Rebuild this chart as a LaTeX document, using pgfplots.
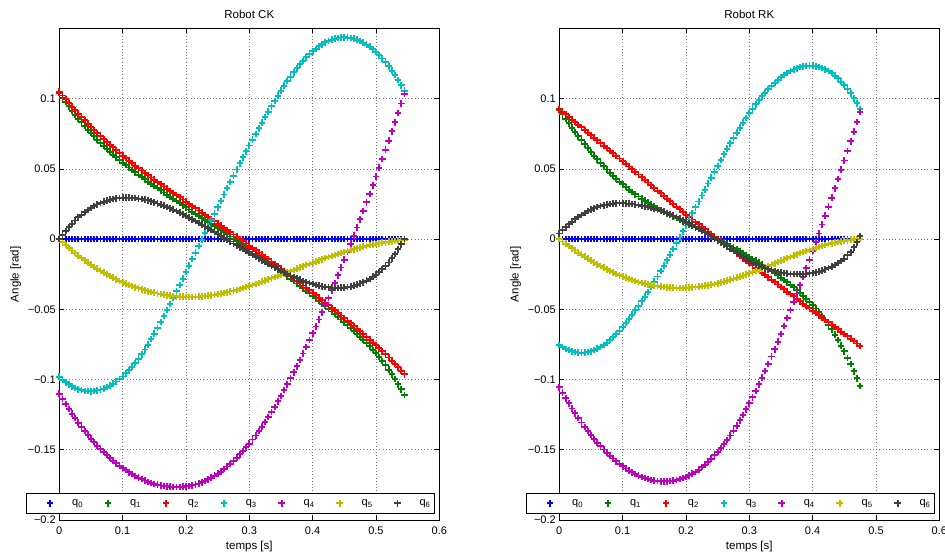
\documentclass[border=0pt]{standalone}
\usepackage{fontspec}
\setmainfont{Liberation Sans}
\usepackage{pgfplots}
\usepackage{pgfplotstable}
\pgfplotsset{compat=1.18}
\definecolor{mblue}{rgb}{0,0,1}
\definecolor{mgreen}{rgb}{0,0.5,0}
\definecolor{mred}{rgb}{1,0,0}
\definecolor{mcyan}{rgb}{0,0.75,0.75}
\definecolor{mmag}{rgb}{0.75,0,0.75}
\definecolor{myel}{rgb}{0.75,0.75,0}
\definecolor{mgray}{rgb}{0.25,0.25,0.25}

\pgfplotstableread{
t q0 q1 q2 q3 q4 q5 q6
0 0 0.1040 0.1050 -0.0980 -0.1100 0 0
0.005 0 0.1008 0.1023 -0.1000 -0.1137 -0.0021 0.0030
0.01 0 0.0976 0.0996 -0.1019 -0.1174 -0.0042 0.0059
0.015 0 0.0946 0.0970 -0.1034 -0.1209 -0.0062 0.0085
0.02 0 0.0915 0.0944 -0.1048 -0.1243 -0.0081 0.0110
0.025 0 0.0887 0.0919 -0.1059 -0.1275 -0.0099 0.0133
0.03 0 0.0858 0.0894 -0.1069 -0.1307 -0.0117 0.0155
0.035 0 0.0832 0.0870 -0.1075 -0.1337 -0.0134 0.0174
0.04 0 0.0805 0.0846 -0.1080 -0.1366 -0.0151 0.0192
0.045 0 0.0780 0.0823 -0.1082 -0.1393 -0.0167 0.0208
0.05 0 0.0755 0.0800 -0.1083 -0.1420 -0.0182 0.0223
0.055 0 0.0732 0.0778 -0.1080 -0.1445 -0.0197 0.0235
0.06 0 0.0708 0.0756 -0.1077 -0.1470 -0.0211 0.0247
0.065 0 0.0686 0.0735 -0.1071 -0.1493 -0.0225 0.0257
0.07 0 0.0664 0.0713 -0.1064 -0.1516 -0.0238 0.0267
0.075 0 0.0643 0.0693 -0.1054 -0.1537 -0.0251 0.0274
0.08 0 0.0622 0.0672 -0.1043 -0.1558 -0.0263 0.0281
0.085 0 0.0602 0.0653 -0.1029 -0.1577 -0.0275 0.0286
0.09 0 0.0582 0.0633 -0.1014 -0.1596 -0.0286 0.0291
0.095 0 0.0564 0.0614 -0.0996 -0.1613 -0.0297 0.0293
0.10 0 0.0545 0.0595 -0.0978 -0.1630 -0.0307 0.0295
0.105 0 0.0528 0.0577 -0.0956 -0.1645 -0.0317 0.0296
0.11 0 0.0510 0.0559 -0.0934 -0.1660 -0.0326 0.0295
0.115 0 0.0493 0.0541 -0.0908 -0.1673 -0.0335 0.0294
0.12 0 0.0475 0.0523 -0.0881 -0.1686 -0.0343 0.0292
0.125 0 0.0459 0.0506 -0.0851 -0.1698 -0.0351 0.0289
0.13 0 0.0442 0.0489 -0.0820 -0.1709 -0.0358 0.0286
0.135 0 0.0426 0.0472 -0.0786 -0.1719 -0.0365 0.0281
0.14 0 0.0409 0.0455 -0.0751 -0.1728 -0.0371 0.0276
0.145 0 0.0394 0.0439 -0.0712 -0.1736 -0.0377 0.0269
0.15 0 0.0378 0.0423 -0.0673 -0.1743 -0.0382 0.0262
0.155 0 0.0363 0.0407 -0.0632 -0.1749 -0.0387 0.0254
0.16 0 0.0347 0.0391 -0.0590 -0.1754 -0.0392 0.0246
0.165 0 0.0332 0.0375 -0.0548 -0.1758 -0.0396 0.0238
0.17 0 0.0316 0.0359 -0.0505 -0.1761 -0.0400 0.0229
0.175 0 0.0301 0.0344 -0.0461 -0.1763 -0.0403 0.0219
0.18 0 0.0286 0.0328 -0.0417 -0.1765 -0.0405 0.0209
0.185 0 0.0271 0.0313 -0.0372 -0.1766 -0.0407 0.0199
0.19 0 0.0256 0.0297 -0.0327 -0.1765 -0.0409 0.0188
0.195 0 0.0241 0.0282 -0.0281 -0.1763 -0.0410 0.0177
0.20 0 0.0226 0.0266 -0.0235 -0.1761 -0.0411 0.0165
0.205 0 0.0211 0.0251 -0.0189 -0.1757 -0.0411 0.0153
0.21 0 0.0196 0.0235 -0.0142 -0.1753 -0.0411 0.0141
0.215 0 0.0182 0.0220 -0.0096 -0.1747 -0.0410 0.0129
0.22 0 0.0167 0.0204 -0.0049 -0.1740 -0.0409 0.0116
0.225 0 0.0152 0.0189 -0.0003 -0.1731 -0.0407 0.0103
0.23 0 0.0137 0.0173 0.0043 -0.1722 -0.0405 0.0090
0.235 0 0.0122 0.0158 0.0089 -0.1711 -0.0403 0.0077
0.24 0 0.0107 0.0142 0.0135 -0.1699 -0.0400 0.0064
0.245 0 0.0093 0.0127 0.0181 -0.1685 -0.0396 0.0051
0.25 0 0.0078 0.0111 0.0227 -0.1671 -0.0392 0.0037
0.255 0 0.0064 0.0096 0.0273 -0.1655 -0.0388 0.0024
0.26 0 0.0049 0.0080 0.0318 -0.1638 -0.0383 0.0010
0.265 0 0.0034 0.0065 0.0363 -0.1619 -0.0378 -0.0004
0.27 0 0.0019 0.0049 0.0408 -0.1600 -0.0373 -0.0017
0.275 0 0.0004 0.0033 0.0452 -0.1579 -0.0367 -0.0031
0.28 0 -0.0011 0.0017 0.0496 -0.1557 -0.0361 -0.0044
0.285 0 -0.0027 0.0001 0.0539 -0.1533 -0.0355 -0.0058
0.29 0 -0.0042 -0.0015 0.0582 -0.1509 -0.0348 -0.0071
0.295 0 -0.0057 -0.0031 0.0625 -0.1483 -0.0341 -0.0085
0.30 0 -0.0072 -0.0047 0.0667 -0.1456 -0.0334 -0.0098
0.305 0 -0.0088 -0.0063 0.0709 -0.1427 -0.0327 -0.0112
0.31 0 -0.0103 -0.0079 0.0750 -0.1398 -0.0319 -0.0125
0.315 0 -0.0119 -0.0095 0.0790 -0.1367 -0.0311 -0.0138
0.32 0 -0.0134 -0.0111 0.0830 -0.1335 -0.0303 -0.0151
0.325 0 -0.0150 -0.0128 0.0869 -0.1301 -0.0295 -0.0164
0.33 0 -0.0166 -0.0144 0.0908 -0.1267 -0.0287 -0.0176
0.335 0 -0.0182 -0.0161 0.0946 -0.1231 -0.0279 -0.0189
0.34 0 -0.0198 -0.0177 0.0984 -0.1194 -0.0270 -0.0201
0.345 0 -0.0215 -0.0194 0.1021 -0.1155 -0.0262 -0.0213
0.35 0 -0.0231 -0.0210 0.1057 -0.1116 -0.0253 -0.0225
0.355 0 -0.0248 -0.0227 0.1092 -0.1075 -0.0245 -0.0237
0.36 0 -0.0264 -0.0244 0.1126 -0.1034 -0.0236 -0.0248
0.365 0 -0.0281 -0.0261 0.1157 -0.0992 -0.0228 -0.0259
0.37 0 -0.0298 -0.0278 0.1188 -0.0949 -0.0219 -0.0269
0.375 0 -0.0316 -0.0295 0.1216 -0.0905 -0.0211 -0.0279
0.38 0 -0.0333 -0.0312 0.1244 -0.0860 -0.0202 -0.0288
0.385 0 -0.0351 -0.0330 0.1269 -0.0814 -0.0194 -0.0297
0.39 0 -0.0368 -0.0347 0.1294 -0.0767 -0.0185 -0.0305
0.395 0 -0.0386 -0.0365 0.1316 -0.0719 -0.0177 -0.0313
0.40 0 -0.0404 -0.0382 0.1337 -0.0671 -0.0168 -0.0320
0.405 0 -0.0422 -0.0400 0.1355 -0.0622 -0.0160 -0.0326
0.41 0 -0.0440 -0.0417 0.1373 -0.0572 -0.0151 -0.0332
0.415 0 -0.0459 -0.0435 0.1387 -0.0521 -0.0143 -0.0337
0.42 0 -0.0477 -0.0453 0.1401 -0.0470 -0.0135 -0.0341
0.425 0 -0.0496 -0.0471 0.1411 -0.0418 -0.0128 -0.0344
0.43 0 -0.0515 -0.0489 0.1421 -0.0365 -0.0120 -0.0346
0.435 0 -0.0534 -0.0507 0.1427 -0.0311 -0.0113 -0.0347
0.44 0 -0.0552 -0.0525 0.1433 -0.0257 -0.0105 -0.0347
0.445 0 -0.0572 -0.0544 0.1436 -0.0202 -0.0098 -0.0346
0.45 0 -0.0592 -0.0562 0.1437 -0.0146 -0.0091 -0.0345
0.455 0 -0.0612 -0.0581 0.1435 -0.0090 -0.0085 -0.0342
0.46 0 -0.0632 -0.0599 0.1433 -0.0033 -0.0078 -0.0338
0.465 0 -0.0654 -0.0618 0.1427 0.0025 -0.0072 -0.0332
0.47 0 -0.0675 -0.0637 0.1420 0.0083 -0.0065 -0.0325
0.475 0 -0.0697 -0.0657 0.1410 0.0142 -0.0060 -0.0316
0.48 0 -0.0718 -0.0676 0.1399 0.0201 -0.0054 -0.0307
0.485 0 -0.0741 -0.0696 0.1385 0.0262 -0.0049 -0.0295
0.49 0 -0.0764 -0.0716 0.1370 0.0322 -0.0043 -0.0283
0.495 0 -0.0788 -0.0737 0.1351 0.0384 -0.0039 -0.0268
0.50 0 -0.0811 -0.0757 0.1332 0.0446 -0.0034 -0.0253
0.505 0 -0.0839 -0.0778 0.1309 0.0509 -0.0030 -0.0234
0.51 0 -0.0867 -0.0799 0.1286 0.0572 -0.0026 -0.0215
0.515 0 -0.0898 -0.0821 0.1259 0.0637 -0.0022 -0.0191
0.52 0 -0.0929 -0.0843 0.1231 0.0701 -0.0018 -0.0166
0.525 0 -0.0963 -0.0866 0.1200 0.0767 -0.0015 -0.0137
0.53 0 -0.0996 -0.0889 0.1168 0.0832 -0.0012 -0.0107
0.535 0 -0.1033 -0.0913 0.1132 0.0899 -0.0010 -0.0072
0.54 0 -0.1070 -0.0937 0.1096 0.0966 -0.0007 -0.0037
0.545 0 -0.1110 -0.0962 0.1057 0.1034 -0.0004 0.0002
}\tabCK

\pgfplotstableread{
t q0 q1 q2 q3 q4 q5 q6
0 0 0.0920 0.0925 -0.0755 -0.1055 0 0.0040
0.005 0 0.0888 0.0907 -0.0768 -0.1094 -0.0017 0.0063
0.01 0 0.0855 0.0888 -0.0781 -0.1133 -0.0033 0.0085
0.015 0 0.0824 0.0870 -0.0790 -0.1170 -0.0049 0.0105
0.02 0 0.0793 0.0851 -0.0798 -0.1206 -0.0065 0.0125
0.025 0 0.0763 0.0833 -0.0803 -0.1240 -0.0081 0.0142
0.03 0 0.0733 0.0814 -0.0807 -0.1274 -0.0096 0.0159
0.035 0 0.0704 0.0796 -0.0808 -0.1306 -0.0111 0.0173
0.04 0 0.0675 0.0777 -0.0807 -0.1337 -0.0125 0.0187
0.045 0 0.0648 0.0759 -0.0803 -0.1366 -0.0139 0.0199
0.05 0 0.0620 0.0740 -0.0798 -0.1395 -0.0153 0.0210
0.055 0 0.0594 0.0722 -0.0789 -0.1422 -0.0166 0.0219
0.06 0 0.0568 0.0703 -0.0780 -0.1449 -0.0179 0.0228
0.065 0 0.0544 0.0685 -0.0767 -0.1474 -0.0191 0.0235
0.07 0 0.0519 0.0666 -0.0754 -0.1498 -0.0203 0.0241
0.075 0 0.0496 0.0648 -0.0737 -0.1520 -0.0215 0.0246
0.08 0 0.0473 0.0629 -0.0719 -0.1542 -0.0226 0.0250
0.085 0 0.0452 0.0611 -0.0698 -0.1562 -0.0237 0.0253
0.09 0 0.0430 0.0592 -0.0676 -0.1582 -0.0247 0.0255
0.095 0 0.0410 0.0574 -0.0651 -0.1600 -0.0257 0.0256
0.10 0 0.0390 0.0555 -0.0625 -0.1617 -0.0266 0.0255
0.105 0 0.0372 0.0536 -0.0597 -0.1633 -0.0275 0.0254
0.11 0 0.0353 0.0517 -0.0568 -0.1648 -0.0283 0.0252
0.115 0 0.0336 0.0498 -0.0538 -0.1661 -0.0291 0.0250
0.12 0 0.0319 0.0479 -0.0507 -0.1673 -0.0298 0.0247
0.125 0 0.0304 0.0460 -0.0475 -0.1684 -0.0305 0.0243
0.13 0 0.0288 0.0441 -0.0443 -0.1694 -0.0311 0.0239
0.135 0 0.0274 0.0422 -0.0409 -0.1702 -0.0317 0.0234
0.14 0 0.0259 0.0403 -0.0375 -0.1709 -0.0322 0.0229
0.145 0 0.0246 0.0384 -0.0339 -0.1715 -0.0327 0.0223
0.15 0 0.0233 0.0365 -0.0303 -0.1720 -0.0331 0.0217
0.155 0 0.0221 0.0346 -0.0266 -0.1723 -0.0335 0.0210
0.16 0 0.0208 0.0327 -0.0228 -0.1725 -0.0338 0.0203
0.165 0 0.0196 0.0308 -0.0189 -0.1726 -0.0341 0.0195
0.17 0 0.0184 0.0289 -0.0150 -0.1725 -0.0343 0.0187
0.175 0 0.0173 0.0270 -0.0110 -0.1723 -0.0345 0.0178
0.18 0 0.0161 0.0251 -0.0070 -0.1720 -0.0346 0.0168
0.185 0 0.0150 0.0232 -0.0029 -0.1715 -0.0347 0.0158
0.19 0 0.0138 0.0213 0.0012 -0.1709 -0.0347 0.0147
0.195 0 0.0127 0.0194 0.0055 -0.1701 -0.0347 0.0136
0.20 0 0.0116 0.0175 0.0097 -0.1693 -0.0346 0.0124
0.205 0 0.0105 0.0158 0.0140 -0.1682 -0.0345 0.0112
0.21 0 0.0094 0.0140 0.0183 -0.1671 -0.0343 0.0100
0.215 0 0.0083 0.0123 0.0226 -0.1657 -0.0341 0.0087
0.22 0 0.0071 0.0105 0.0268 -0.1642 -0.0338 0.0074
0.225 0 0.0060 0.0088 0.0311 -0.1624 -0.0335 0.0061
0.23 0 0.0048 0.0070 0.0353 -0.1606 -0.0332 0.0048
0.235 0 0.0037 0.0053 0.0396 -0.1585 -0.0328 0.0034
0.24 0 0.0025 0.0035 0.0438 -0.1564 -0.0324 0.0020
0.245 0 0.0013 0.0018 0.0480 -0.1540 -0.0319 0.0006
0.25 0 0.0001 0.0000 0.0522 -0.1515 -0.0314 -0.0008
0.255 0 -0.0011 -0.0017 0.0563 -0.1488 -0.0308 -0.0023
0.26 0 -0.0023 -0.0034 0.0604 -0.1460 -0.0302 -0.0037
0.265 0 -0.0036 -0.0051 0.0644 -0.1429 -0.0296 -0.0052
0.27 0 -0.0048 -0.0068 0.0683 -0.1398 -0.0289 -0.0067
0.275 0 -0.0061 -0.0085 0.0721 -0.1364 -0.0282 -0.0083
0.28 0 -0.0073 -0.0102 0.0758 -0.1329 -0.0275 -0.0098
0.285 0 -0.0086 -0.0119 0.0794 -0.1291 -0.0268 -0.0113
0.29 0 -0.0099 -0.0136 0.0829 -0.1253 -0.0260 -0.0128
0.295 0 -0.0113 -0.0153 0.0863 -0.1212 -0.0252 -0.0142
0.30 0 -0.0126 -0.0170 0.0897 -0.1170 -0.0244 -0.0155
0.305 0 -0.0140 -0.0187 0.0929 -0.1126 -0.0236 -0.0167
0.31 0 -0.0154 -0.0204 0.0960 -0.1081 -0.0227 -0.0178
0.315 0 -0.0168 -0.0221 0.0989 -0.1034 -0.0218 -0.0188
0.32 0 -0.0182 -0.0238 0.1017 -0.0987 -0.0209 -0.0198
0.325 0 -0.0197 -0.0255 0.1043 -0.0938 -0.0200 -0.0207
0.33 0 -0.0212 -0.0272 0.1068 -0.0888 -0.0191 -0.0215
0.335 0 -0.0227 -0.0289 0.1091 -0.0836 -0.0182 -0.0222
0.34 0 -0.0242 -0.0306 0.1113 -0.0784 -0.0173 -0.0228
0.345 0 -0.0258 -0.0323 0.1133 -0.0730 -0.0164 -0.0233
0.35 0 -0.0274 -0.0340 0.1152 -0.0675 -0.0154 -0.0238
0.355 0 -0.0291 -0.0357 0.1168 -0.0619 -0.0145 -0.0242
0.36 0 -0.0307 -0.0374 0.1184 -0.0562 -0.0135 -0.0245
0.365 0 -0.0325 -0.0391 0.1196 -0.0504 -0.0126 -0.0247
0.37 0 -0.0343 -0.0408 0.1208 -0.0446 -0.0117 -0.0248
0.375 0 -0.0363 -0.0425 0.1217 -0.0387 -0.0109 -0.0249
0.38 0 -0.0382 -0.0442 0.1225 -0.0328 -0.0100 -0.0249
0.385 0 -0.0403 -0.0459 0.1230 -0.0268 -0.0092 -0.0248
0.39 0 -0.0424 -0.0476 0.1234 -0.0208 -0.0084 -0.0246
0.395 0 -0.0447 -0.0493 0.1235 -0.0147 -0.0077 -0.0244
0.40 0 -0.0469 -0.0510 0.1235 -0.0085 -0.0069 -0.0241
0.405 0 -0.0494 -0.0527 0.1231 -0.0023 -0.0062 -0.0236
0.41 0 -0.0519 -0.0543 0.1227 0.0040 -0.0055 -0.0231
0.415 0 -0.0548 -0.0560 0.1218 0.0104 -0.0049 -0.0224
0.42 0 -0.0577 -0.0576 0.1209 0.0167 -0.0042 -0.0216
0.425 0 -0.0610 -0.0593 0.1196 0.0232 -0.0036 -0.0206
0.43 0 -0.0643 -0.0609 0.1182 0.0296 -0.0030 -0.0196
0.435 0 -0.0680 -0.0626 0.1164 0.0362 -0.0025 -0.0183
0.44 0 -0.0717 -0.0642 0.1145 0.0427 -0.0020 -0.0170
0.445 0 -0.0758 -0.0659 0.1122 0.0494 -0.0016 -0.0155
0.45 0 -0.0799 -0.0675 0.1098 0.0560 -0.0011 -0.0139
0.455 0 -0.0845 -0.0692 0.1069 0.0628 -0.0008 -0.0116
0.46 0 -0.0890 -0.0709 0.1039 0.0696 -0.0004 -0.0093
0.465 0 -0.0941 -0.0726 0.1003 0.0766 -0.0001 -0.0058
0.47 0 -0.0992 -0.0743 0.0967 0.0835 0.0002 -0.0022
0.475 0 -0.1047 -0.0760 0.0926 0.0906 0.0004 0.0022
}\tabRK

\pgfplotsset{
  robot/.style={
    scale only axis, width=380pt, height=491.5pt,
    xmin=0, xmax=0.6, ymin=-0.2, ymax=0.15,
    xtick={0,0.1,0.2,0.3,0.4,0.5,0.6},
    xticklabels={0,0.1,0.2,0.3,0.4,0.5,0.6},
    ytick={-0.2,-0.15,-0.1,-0.05,0,0.05,0.1},
    yticklabels={−0.2,−0.15,−0.1,−0.05,0,0.05,0.1},
    tick align=inside, major tick length=5pt,
    grid=major,
    grid style={black!55, line width=0.7pt, dash pattern=on 0.8pt off 2.4pt},
    axis line style={line width=1pt},
    every tick/.style={black, line width=0.7pt},
    tick label style={font=\fontsize{11}{13}\selectfont},
    xticklabel style={yshift=-3pt},
    label style={font=\fontsize{11.5}{13}\selectfont},
    title style={font=\fontsize{11.5}{13}\selectfont},
    xlabel={temps [s]}, ylabel={Angle [rad]},
    legend columns=7,
    legend style={at={(0.45,0.0122)}, anchor=south, draw=black, line width=0.8pt,
      fill=white, inner xsep=3pt, inner ysep=3pt,
      font=\fontsize{11}{13}\selectfont,
      nodes={inner xsep=1pt, inner ysep=3.5pt},
      /tikz/every even column/.append style={column sep=3pt}},
    legend image code/.code={%
      \path[draw=none,fill=none] (0pt,-3pt) rectangle (42pt,3pt);
      \draw[mark repeat=2,mark phase=2,#1] plot coordinates {(0pt,0pt) (21pt,0pt) (42pt,0pt)};},
    every axis plot/.append style={only marks, mark=+, mark size=3.3pt, line width=1.9pt},
  }
}

\begin{document}
\begin{tikzpicture}
\useasboundingbox (0,0) rectangle (945pt,552pt);
\begin{axis}[robot, at={(59.3pt,32pt)}, anchor=south west, title={Robot CK}]
\addplot[color=mblue] table[x=t,y=q0]{\tabCK};
\addplot[color=mgreen] table[x=t,y=q1]{\tabCK};
\addplot[color=mred] table[x=t,y=q2]{\tabCK};
\addplot[color=mcyan] table[x=t,y=q3]{\tabCK};
\addplot[color=mmag] table[x=t,y=q4]{\tabCK};
\addplot[color=myel] table[x=t,y=q5]{\tabCK};
\addplot[color=mgray] table[x=t,y=q6]{\tabCK};
\legend{q\textsubscript{0},q\textsubscript{1},q\textsubscript{2},q\textsubscript{3},q\textsubscript{4},q\textsubscript{5},q\textsubscript{6}}
\end{axis}
\begin{axis}[robot, at={(559.3pt,32pt)}, anchor=south west, title={Robot RK}]
\addplot[color=mblue] table[x=t,y=q0]{\tabRK};
\addplot[color=mgreen] table[x=t,y=q1]{\tabRK};
\addplot[color=mred] table[x=t,y=q2]{\tabRK};
\addplot[color=mcyan] table[x=t,y=q3]{\tabRK};
\addplot[color=mmag] table[x=t,y=q4]{\tabRK};
\addplot[color=myel] table[x=t,y=q5]{\tabRK};
\addplot[color=mgray] table[x=t,y=q6]{\tabRK};
\legend{q\textsubscript{0},q\textsubscript{1},q\textsubscript{2},q\textsubscript{3},q\textsubscript{4},q\textsubscript{5},q\textsubscript{6}}
\end{axis}
\end{tikzpicture}
\end{document}
